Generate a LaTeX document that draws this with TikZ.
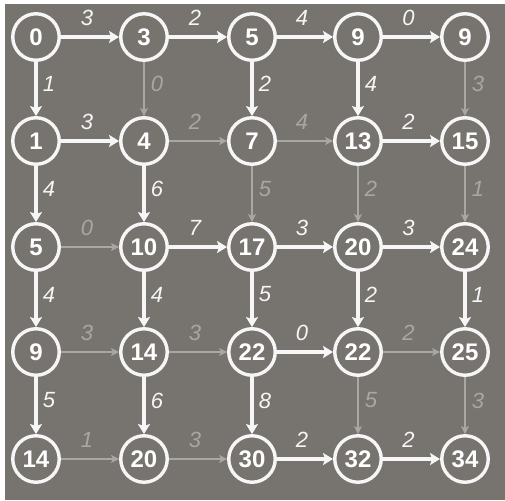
\documentclass[tikz,border=0pt]{standalone}
\usepackage{fontspec}
\setmainfont{Liberation Sans}
\usetikzlibrary{arrows.meta}
\definecolor{bg}{HTML}{77736E}
\definecolor{faintc}{HTML}{A9A7A4}
\definecolor{brightc}{HTML}{F6F6F6}
\begin{document}
\begin{tikzpicture}[x=1pt,y=-1pt,
  nd/.style={circle,draw=brightc,line width=3.4pt,minimum size=46.5pt,inner sep=0pt,text=white,font=\bfseries\fontsize{24}{24}\selectfont},
  hi/.style={draw=brightc,line width=3.6pt,-{Stealth[length=10pt,width=12pt,inset=2pt]}},
  lo/.style={draw=faintc,line width=2pt,-{Stealth[length=8pt,width=8pt,inset=2pt]}},
  lhi/.style={text=brightc,font=\itshape\fontsize{22}{22}\selectfont,inner sep=0pt},
  llo/.style={text=faintc,font=\itshape\fontsize{22}{22}\selectfont,inner sep=0pt},
  hl/.style={xshift=-3pt,yshift=19pt},
  vl/.style={xshift=13pt,yshift=5pt}]
\useasboundingbox (0,0) rectangle (505,500);
\fill[white] (0,0) rectangle (505,500);
\fill[bg] (5,4) rectangle (505,500);
% nodes
\node[nd] (n00) at (36,37) {0};
\node[nd] (n01) at (144,37) {3};
\node[nd] (n02) at (252,37) {5};
\node[nd] (n03) at (358,37) {9};
\node[nd] (n04) at (465,37) {9};
\node[nd] (n10) at (36,141) {1};
\node[nd] (n11) at (144,141) {4};
\node[nd] (n12) at (252,141) {7};
\node[nd] (n13) at (358,141) {13};
\node[nd] (n14) at (465,141) {15};
\node[nd] (n20) at (36,247) {5};
\node[nd] (n21) at (144,247) {10};
\node[nd] (n22) at (252,247) {17};
\node[nd] (n23) at (358,247) {20};
\node[nd] (n24) at (465,247) {24};
\node[nd] (n30) at (36,352) {9};
\node[nd] (n31) at (144,352) {14};
\node[nd] (n32) at (252,352) {22};
\node[nd] (n33) at (358,352) {22};
\node[nd] (n34) at (465,352) {25};
\node[nd] (n40) at (36,459) {14};
\node[nd] (n41) at (144,459) {20};
\node[nd] (n42) at (252,459) {30};
\node[nd] (n43) at (358,459) {32};
\node[nd] (n44) at (465,459) {34};
% horizontal edges
\draw[hi] (n00) -- node[lhi,hl]{3} (n01);
\draw[hi] (n01) -- node[lhi,hl]{2} (n02);
\draw[hi] (n02) -- node[lhi,hl]{4} (n03);
\draw[hi] (n03) -- node[lhi,hl]{0} (n04);
\draw[hi] (n10) -- node[lhi,hl]{3} (n11);
\draw[lo] (n11) -- node[llo,hl]{2} (n12);
\draw[lo] (n12) -- node[llo,hl]{4} (n13);
\draw[hi] (n13) -- node[lhi,hl]{2} (n14);
\draw[lo] (n20) -- node[llo,hl]{0} (n21);
\draw[hi] (n21) -- node[lhi,hl]{7} (n22);
\draw[hi] (n22) -- node[lhi,hl]{3} (n23);
\draw[hi] (n23) -- node[lhi,hl]{3} (n24);
\draw[lo] (n30) -- node[llo,hl]{3} (n31);
\draw[lo] (n31) -- node[llo,hl]{3} (n32);
\draw[hi] (n32) -- node[lhi,hl]{0} (n33);
\draw[lo] (n33) -- node[llo,hl]{2} (n34);
\draw[lo] (n40) -- node[llo,hl]{1} (n41);
\draw[lo] (n41) -- node[llo,hl]{3} (n42);
\draw[hi] (n42) -- node[lhi,hl]{2} (n43);
\draw[hi] (n43) -- node[lhi,hl]{2} (n44);
% vertical edges
\draw[hi] (n00) -- node[lhi,vl]{1} (n10);
\draw[hi] (n10) -- node[lhi,vl]{4} (n20);
\draw[hi] (n20) -- node[lhi,vl]{4} (n30);
\draw[hi] (n30) -- node[lhi,vl]{5} (n40);
\draw[lo] (n01) -- node[llo,vl]{0} (n11);
\draw[hi] (n11) -- node[lhi,vl]{6} (n21);
\draw[hi] (n21) -- node[lhi,vl]{4} (n31);
\draw[hi] (n31) -- node[lhi,vl]{6} (n41);
\draw[hi] (n02) -- node[lhi,vl]{2} (n12);
\draw[lo] (n12) -- node[llo,vl]{5} (n22);
\draw[hi] (n22) -- node[lhi,vl]{5} (n32);
\draw[hi] (n32) -- node[lhi,vl]{8} (n42);
\draw[hi] (n03) -- node[lhi,vl]{4} (n13);
\draw[lo] (n13) -- node[llo,vl]{2} (n23);
\draw[hi] (n23) -- node[lhi,vl]{2} (n33);
\draw[lo] (n33) -- node[llo,vl]{5} (n43);
\draw[lo] (n04) -- node[llo,vl]{3} (n14);
\draw[lo] (n14) -- node[llo,vl]{1} (n24);
\draw[hi] (n24) -- node[lhi,vl]{1} (n34);
\draw[lo] (n34) -- node[llo,vl]{3} (n44);
\end{tikzpicture}
\end{document}
